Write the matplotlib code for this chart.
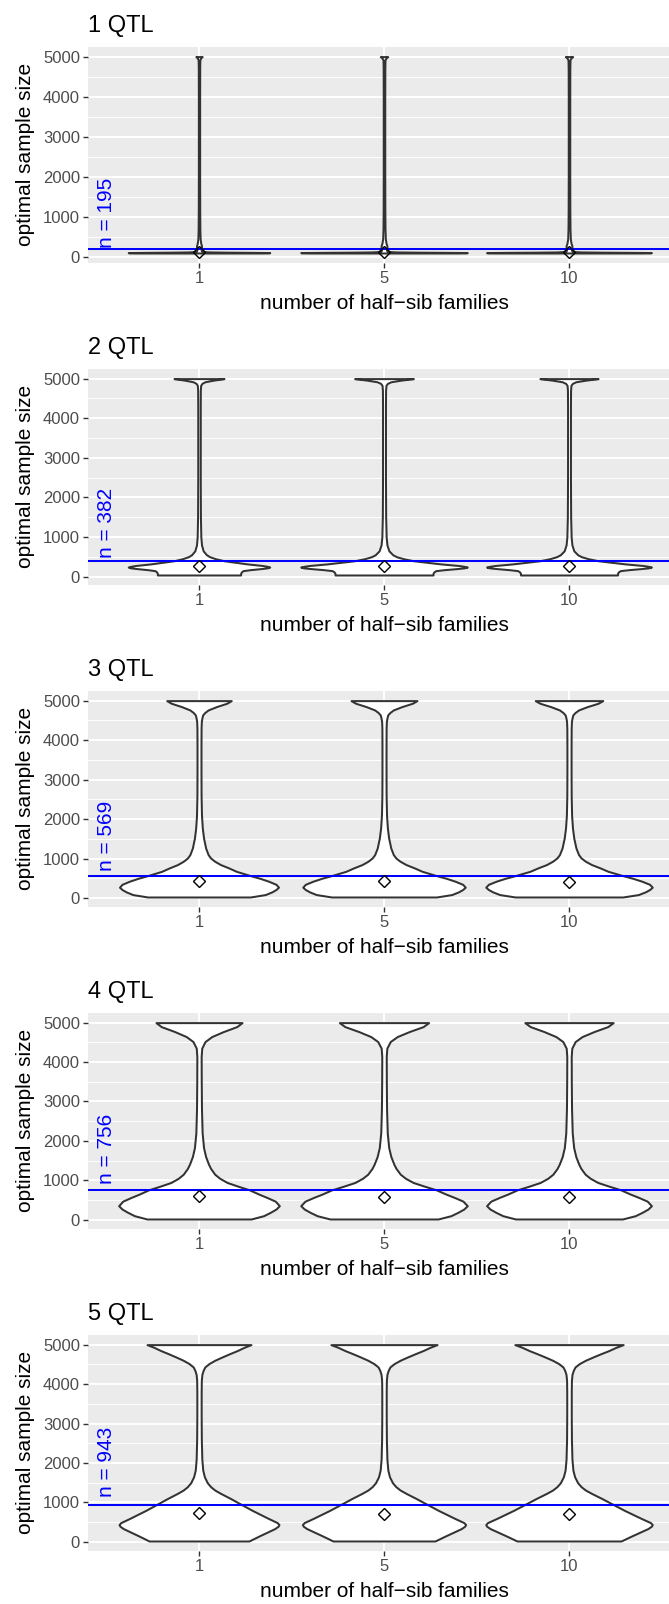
import numpy as np
import matplotlib.pyplot as plt

plt.rcParams['font.family'] = ['Liberation Sans', 'DejaVu Sans']

# ---- data ----
families = ['1', '5', '10']
titles = ['1 QTL', '2 QTL', '3 QTL', '4 QTL', '5 QTL']
n_line = [195, 382, 569, 756, 943]

# diamond markers (one per family)
centre_marks = [
    [115, 113, 113],
    [265, 262, 262],
    [430, 425, 420],
    [595, 580, 578],
    [740, 715, 705],
]

# relative peak width of each violin (area scaling)
peaks = [
    [0.85, 1.0, 0.99],
    [0.85, 1.0, 0.99],
    [0.955, 0.976, 1.0],
    [0.965, 1.0, 0.99],
    [0.96, 0.98, 1.0],
]

# density profiles (sample size, relative density)
dens_y1 = [100, 104, 108, 112, 116, 120, 126, 135, 150, 180, 230, 280, 340, 450, 700, 1200,
           2000, 3000, 4000, 4700, 4920, 4985, 5000]
dens_w1 = [0.90, 0.98, 1.00, 0.93, 0.70, 0.40, 0.15, 0.06, 0.035, 0.03, 0.035, 0.035, 0.025, 0.016,
           0.012, 0.010, 0.009, 0.009, 0.009, 0.010, 0.012, 0.03, 0.045]

dens_y2 = [40, 80, 120, 150, 175, 200, 220, 240, 262, 280, 320, 360, 400, 450, 500, 550, 650, 800,
           1000, 1500, 2500, 3500, 4300, 4700, 4830, 4880, 4920, 4960, 5000]
dens_w2 = [0.50, 0.50, 0.51, 0.53, 0.62, 0.74, 0.82, 0.85, 0.81, 0.76, 0.58, 0.44, 0.30, 0.20,
           0.13, 0.09, 0.05, 0.03, 0.022, 0.017, 0.015, 0.015, 0.015, 0.016, 0.02, 0.035, 0.07,
           0.17, 0.30]

dens_y3 = [30, 91, 160, 220, 278, 350, 429, 500, 571, 680, 765, 850, 934, 1017, 1103, 1270, 1522,
           1776, 2100, 2600, 3200, 3800, 4300, 4470, 4560, 4638, 4700, 4764, 4848, 4933, 5000]
dens_w3 = [0.62, 0.80, 0.88, 0.93, 0.96, 0.93, 0.84, 0.74, 0.62, 0.45, 0.36, 0.26, 0.19, 0.14,
           0.11, 0.08, 0.055, 0.04, 0.03, 0.025, 0.024, 0.024, 0.025, 0.028, 0.035, 0.044, 0.07,
           0.11, 0.21, 0.335, 0.39]

dens_y4 = [17, 101, 185, 270, 354, 470, 564, 650, 756, 850, 943, 1050, 1153, 1300, 1406, 1600,
           1827, 2200, 2800, 3500, 4141, 4352, 4520, 4646, 4773, 4899, 5000]
dens_w4 = [0.63, 0.78, 0.86, 0.93, 0.97, 0.92, 0.82, 0.72, 0.61, 0.47, 0.34, 0.25, 0.19, 0.14,
           0.115, 0.08, 0.055, 0.038, 0.03, 0.027, 0.026, 0.033, 0.073, 0.154, 0.294, 0.456, 0.52]

dens_y5 = [25, 150, 260, 340, 400, 440, 490, 600, 800, 978, 1100, 1231, 1315, 1400, 1500, 1650,
           1821, 2100, 2600, 3200, 3800, 4100, 4250, 4350, 4435, 4520, 4604, 4690, 4772, 4850,
           4930, 5000]
dens_w5 = [0.60, 0.72, 0.83, 0.91, 0.95, 0.96, 0.94, 0.83, 0.64, 0.485, 0.38, 0.26, 0.19, 0.14,
           0.10, 0.065, 0.045, 0.034, 0.028, 0.026, 0.026, 0.028, 0.035, 0.05, 0.07, 0.12, 0.19,
           0.28, 0.37, 0.46, 0.54, 0.625]

dens_y = [dens_y1, dens_y2, dens_y3, dens_y4, dens_y5]
dens_w = [dens_w1, dens_w2, dens_w3, dens_w4, dens_w5]


class para(object):
    W = 669
    H = 1604
    panel_left = 88
    panel_top = 46.8
    panel_h = 216
    block = 322
    panel_bg = '#EBEBEB'
    violin_edge = '#333333'
    tick_color = '#333333'
    ticklabel_color = '#4D4D4D'
    line_color = 'blue'
    xlabel = 'number of half\u2212sib families'
    ylabel = 'optimal sample size'


fig = plt.figure(figsize=(para.W / 100, para.H / 100), dpi=100)
positions = np.arange(1, len(families) + 1)

for k in range(5):
    top = para.panel_top + para.block * k
    ax = fig.add_axes([para.panel_left / para.W, (para.H - top - para.panel_h) / para.H,
                       (para.W - para.panel_left) / para.W, para.panel_h / para.H])
    ax.set_facecolor(para.panel_bg)
    for s in ax.spines.values():
        s.set_visible(False)

    yv = np.array(dens_y[k], dtype=float)
    dv = np.array(dens_w[k], dtype=float)
    dv = dv / dv.max()
    span = yv.max() - yv.min()
    ax.set_ylim(yv.min() - 0.05 * span, yv.max() + 0.05 * span)
    ax.set_xlim(0.4, 0.4 + (para.W - para.panel_left) / 185.0)

    for i, p in enumerate(positions):
        half = 0.45 * peaks[k][i] * dv
        ax.fill_betweenx(yv, p - half, p + half, facecolor='white',
                         edgecolor=para.violin_edge, lw=1.45, zorder=2)
    ax.axhline(n_line[k], color=para.line_color, lw=1.45, zorder=3)
    ax.plot(positions, centre_marks[k], ls='none', marker='D', ms=6.4, mfc='none',
            mec='black', mew=1.0, zorder=4)
    ax.text(0.5, 1.2 * n_line[k], 'n = {0}'.format(n_line[k]), rotation=90, color=para.line_color,
            fontsize=15, ha='center', va='bottom', zorder=5)

    ax.set_yticks(np.arange(0, 5001, 1000))
    ax.set_yticks(np.arange(500, 5000, 1000), minor=True)
    ax.set_xticks(positions)
    ax.set_xticklabels(families)
    ax.grid(which='major', color='white', lw=1.4)
    ax.grid(which='minor', axis='y', color='white', lw=0.7)
    ax.set_axisbelow(True)
    ax.tick_params(which='major', length=3.6, width=1.0, color=para.tick_color,
                   labelcolor=para.ticklabel_color, labelsize=12, pad=2.2)
    ax.tick_params(which='minor', length=0)

    fig.text(para.panel_left / para.W, 1 - (top - 15.1) / para.H, titles[k],
             fontsize=17, va='baseline', ha='left')
    fig.text(384 / para.W, 1 - (top + 262.2) / para.H, para.xlabel,
             fontsize=15, va='baseline', ha='center')
    fig.text(25.6 / para.W, 1 - (top + para.panel_h / 2) / para.H, para.ylabel,
             fontsize=15, rotation=90, va='center', ha='center')

fig.savefig('out.png', dpi=100)
